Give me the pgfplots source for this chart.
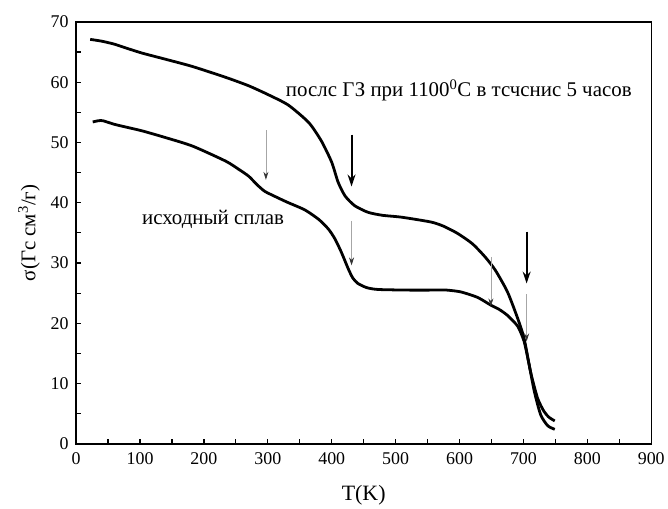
\documentclass[border=0pt]{standalone}
\usepackage{fontspec}
\setmainfont{Liberation Serif}
\usepackage{pgfplots}
\pgfplotsset{compat=1.18}
\usetikzlibrary{arrows.meta}

\begin{document}
\begin{tikzpicture}
\begin{axis}[
  scale only axis, width=578pt, height=424pt,
  xmin=0, xmax=900, ymin=0, ymax=70,
  xtick={0,100,...,900}, ytick={0,10,...,70},
  minor x tick num=1, minor y tick num=1,
  tick align=inside, tick pos=left,
  major tick length=5pt, minor tick length=5pt,
  axis line style={line width=1.5pt},
  every tick/.style={line width=1.2pt, black},
  /pgf/number format/assume math mode=true,
  tick label style={font=\fontsize{18}{20}\selectfont},
  xticklabel style={yshift=-5pt},
  yticklabel style={xshift=-4pt},
  xlabel={T(K)},
  ylabel={σ(Гс см\textsuperscript{3}/г)},
  xlabel style={font=\fontsize{22}{24}\selectfont, yshift=-14pt},
  ylabel style={font=\fontsize{21}{23}\selectfont, yshift=4pt},
  clip=false,
]
\addplot[black, line width=2.8pt, smooth, tension=0.4] coordinates {
(22,67.1) (40,66.8) (60,66.3) (80,65.6) (104,64.8) (140,63.8) (182,62.6)
(234,60.8) (270,59.4) (301,57.9) (332,56.2) (364,53.3) (384,50.2) (400,46.7)
(410,43.4) (421,41.1) (436,39.5) (457,38.4) (480,37.9) (509,37.6)
(555,36.8) (575,36.1) (597,34.9) (620,33.2) (640,31.0) (656,28.8)
(675,25.2) (691,20.8) (701,17.5) (711,12.0) (722,7.6) (732,5.4) (740,4.4) (749,3.8)
};
\addplot[black, line width=2.8pt, smooth, tension=0.4] coordinates {
(26,53.4) (35,53.6) (42,53.6) (60,53.0) (80,52.5) (104,51.9) (140,50.8)
(182,49.4) (234,46.9) (255,45.5) (270,44.4) (283,43.0) (295,41.9) (310,41.1)
(330,40.1) (358,38.8) (380,37.2) (395,35.6) (405,34.0) (415,31.8) (426,29.0)
(433,27.5) (441,26.6) (455,25.9) (473,25.6) (520,25.5) (560,25.5) (580,25.5)
(602,25.2) (628,24.3) (649,23.0) (662,22.3) (675,21.3) (691,19.5)
(701,17.0) (709,13.1) (717,8.7) (727,4.8) (738,3.0) (749,2.4)
};
% thin arrows
\draw[gray!70, line width=0.7pt, -{Stealth[length=8pt,width=5pt,color=black!80]}] (axis cs:297,52) -- (axis cs:297,43.8);
\draw[gray!70, line width=0.7pt, -{Stealth[length=8pt,width=5pt,color=black!80]}] (axis cs:431,37.0) -- (axis cs:431,29.6);
\draw[gray!70, line width=0.7pt, -{Stealth[length=8pt,width=5pt,color=black!80]}] (axis cs:649,31.0) -- (axis cs:649,22.8);
\draw[gray!70, line width=0.7pt, -{Stealth[length=8pt,width=5pt,color=black!80]}] (axis cs:705,24.8) -- (axis cs:705,17.0);
% thick arrows
\draw[black, line width=2pt, -{Stealth[length=12pt,width=8pt]}] (axis cs:431,51.3) -- (axis cs:431,42.7);
\draw[black, line width=2pt, -{Stealth[length=12pt,width=8pt]}] (axis cs:705,35.2) -- (axis cs:705,26.6);
\node[anchor=west, inner sep=0pt, font=\fontsize{21}{23}\selectfont] at (axis cs:328,58.6) {послс ГЗ при 1100\textsuperscript{0}С в тсчснис 5 часов};
\node[anchor=west, inner sep=0pt, font=\fontsize{21}{23}\selectfont] at (axis cs:103,37.3) {исходный сплав};
\end{axis}
\path (current axis.south west) ++(-76.5pt,-60pt) rectangle ++(668pt,506pt);
\end{tikzpicture}
\end{document}
